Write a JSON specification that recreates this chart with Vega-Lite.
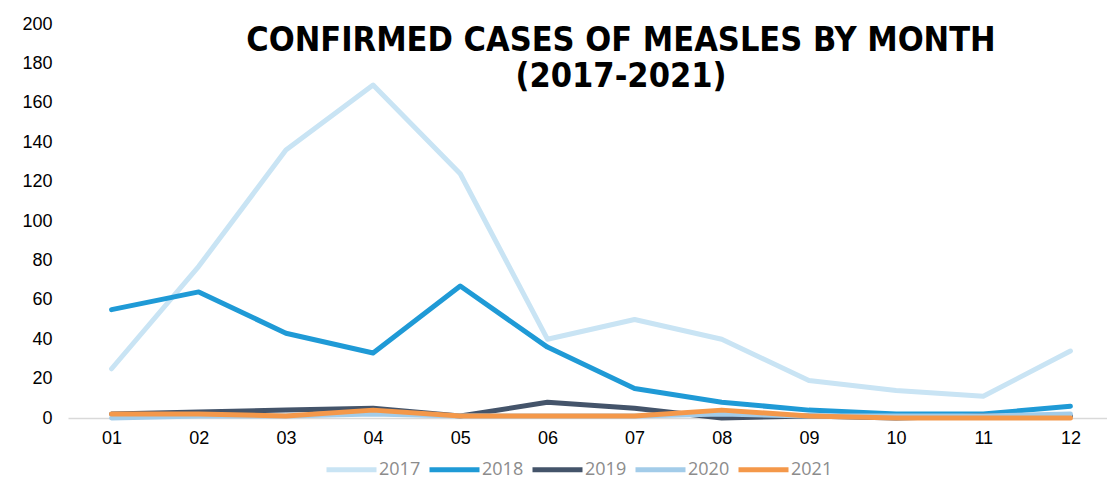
{
  "$schema": "https://vega.github.io/schema/vega-lite/v6.json",
  "autosize": "none",
  "width": 1046,
  "height": 394,
  "padding": {"left": 68, "top": 24, "right": 0, "bottom": 59},
  "background": "white",
  "title": {
    "text": ["CONFIRMED CASES OF MEASLES BY MONTH", "(2017-2021)"],
    "font": "Liberation Sans Narrow, Arial Narrow, DejaVu Sans Condensed, sans-serif",
    "fontSize": 34,
    "fontWeight": "bold",
    "color": "#000000",
    "anchor": "middle",
    "frame": "group",
    "orient": "top",
    "baseline": "alphabetic",
    "offset": -106,
    "dx": 30,
    "lineHeight": 36
  },
  "data": {
    "values": [
      {"month": "01", "year": "2017", "cases": 25},
      {"month": "02", "year": "2017", "cases": 77},
      {"month": "03", "year": "2017", "cases": 136},
      {"month": "04", "year": "2017", "cases": 169},
      {"month": "05", "year": "2017", "cases": 124},
      {"month": "06", "year": "2017", "cases": 40},
      {"month": "07", "year": "2017", "cases": 50},
      {"month": "08", "year": "2017", "cases": 40},
      {"month": "09", "year": "2017", "cases": 19},
      {"month": "10", "year": "2017", "cases": 14},
      {"month": "11", "year": "2017", "cases": 11},
      {"month": "12", "year": "2017", "cases": 34},
      {"month": "01", "year": "2018", "cases": 55},
      {"month": "02", "year": "2018", "cases": 64},
      {"month": "03", "year": "2018", "cases": 43},
      {"month": "04", "year": "2018", "cases": 33},
      {"month": "05", "year": "2018", "cases": 67},
      {"month": "06", "year": "2018", "cases": 36},
      {"month": "07", "year": "2018", "cases": 15},
      {"month": "08", "year": "2018", "cases": 8},
      {"month": "09", "year": "2018", "cases": 4},
      {"month": "10", "year": "2018", "cases": 2},
      {"month": "11", "year": "2018", "cases": 2},
      {"month": "12", "year": "2018", "cases": 6},
      {"month": "01", "year": "2019", "cases": 2},
      {"month": "02", "year": "2019", "cases": 3},
      {"month": "03", "year": "2019", "cases": 4},
      {"month": "04", "year": "2019", "cases": 5},
      {"month": "05", "year": "2019", "cases": 1},
      {"month": "06", "year": "2019", "cases": 8},
      {"month": "07", "year": "2019", "cases": 5},
      {"month": "08", "year": "2019", "cases": 0},
      {"month": "09", "year": "2019", "cases": 1},
      {"month": "10", "year": "2019", "cases": 0},
      {"month": "11", "year": "2019", "cases": 1},
      {"month": "12", "year": "2019", "cases": 1},
      {"month": "01", "year": "2020", "cases": 0},
      {"month": "02", "year": "2020", "cases": 1},
      {"month": "03", "year": "2020", "cases": 1},
      {"month": "04", "year": "2020", "cases": 2},
      {"month": "05", "year": "2020", "cases": 1},
      {"month": "06", "year": "2020", "cases": 1},
      {"month": "07", "year": "2020", "cases": 1},
      {"month": "08", "year": "2020", "cases": 2},
      {"month": "09", "year": "2020", "cases": 1},
      {"month": "10", "year": "2020", "cases": 1},
      {"month": "11", "year": "2020", "cases": 1},
      {"month": "12", "year": "2020", "cases": 2},
      {"month": "01", "year": "2021", "cases": 2},
      {"month": "02", "year": "2021", "cases": 2},
      {"month": "03", "year": "2021", "cases": 1},
      {"month": "04", "year": "2021", "cases": 4},
      {"month": "05", "year": "2021", "cases": 1},
      {"month": "06", "year": "2021", "cases": 1},
      {"month": "07", "year": "2021", "cases": 1},
      {"month": "08", "year": "2021", "cases": 4},
      {"month": "09", "year": "2021", "cases": 1},
      {"month": "10", "year": "2021", "cases": 0},
      {"month": "11", "year": "2021", "cases": 0},
      {"month": "12", "year": "2021", "cases": 0}
    ]
  },
  "mark": {"type": "line", "strokeWidth": 5, "strokeJoin": "round", "strokeCap": "round"},
  "encoding": {
    "x": {
      "field": "month",
      "type": "ordinal",
      "scale": {"type": "point", "padding": 0.5},
      "axis": {
        "title": null,
        "labelAngle": 0,
        "labelFont": "Liberation Sans, Arial, sans-serif",
        "labelFontSize": 18,
        "labelColor": "#000000",
        "labelPadding": 11,
        "ticks": false,
        "domainColor": "#d9d9d9",
        "domainWidth": 1.5,
        "grid": false
      }
    },
    "y": {
      "field": "cases",
      "type": "quantitative",
      "scale": {"domain": [0, 200], "nice": false},
      "axis": {
        "title": null,
        "values": [0, 20, 40, 60, 80, 100, 120, 140, 160, 180, 200],
        "labelFont": "Liberation Sans, Arial, sans-serif",
        "labelFontSize": 18,
        "labelColor": "#000000",
        "labelPadding": 16,
        "ticks": false,
        "domain": false,
        "grid": false
      }
    },
    "color": {
      "field": "year",
      "type": "nominal",
      "scale": {
        "domain": ["2017", "2018", "2019", "2020", "2021"],
        "range": ["#C9E4F4", "#1F9AD6", "#44546A", "#A3CCE9", "#F4984A"]
      },
      "legend": {
        "title": null,
        "orient": "none",
        "legendX": 256,
        "legendY": 418,
        "direction": "horizontal",
        "symbolType": "stroke",
        "symbolSize": 2500,
        "symbolStrokeWidth": 5,
        "labelFont": "Open Sans, Noto Sans, sans-serif",
        "labelFontSize": 18,
        "labelColor": "#8c8c8c",
        "labelOffset": 0,
        "columnPadding": -2
      }
    }
  },
  "config": {"view": {"stroke": null}}
}
